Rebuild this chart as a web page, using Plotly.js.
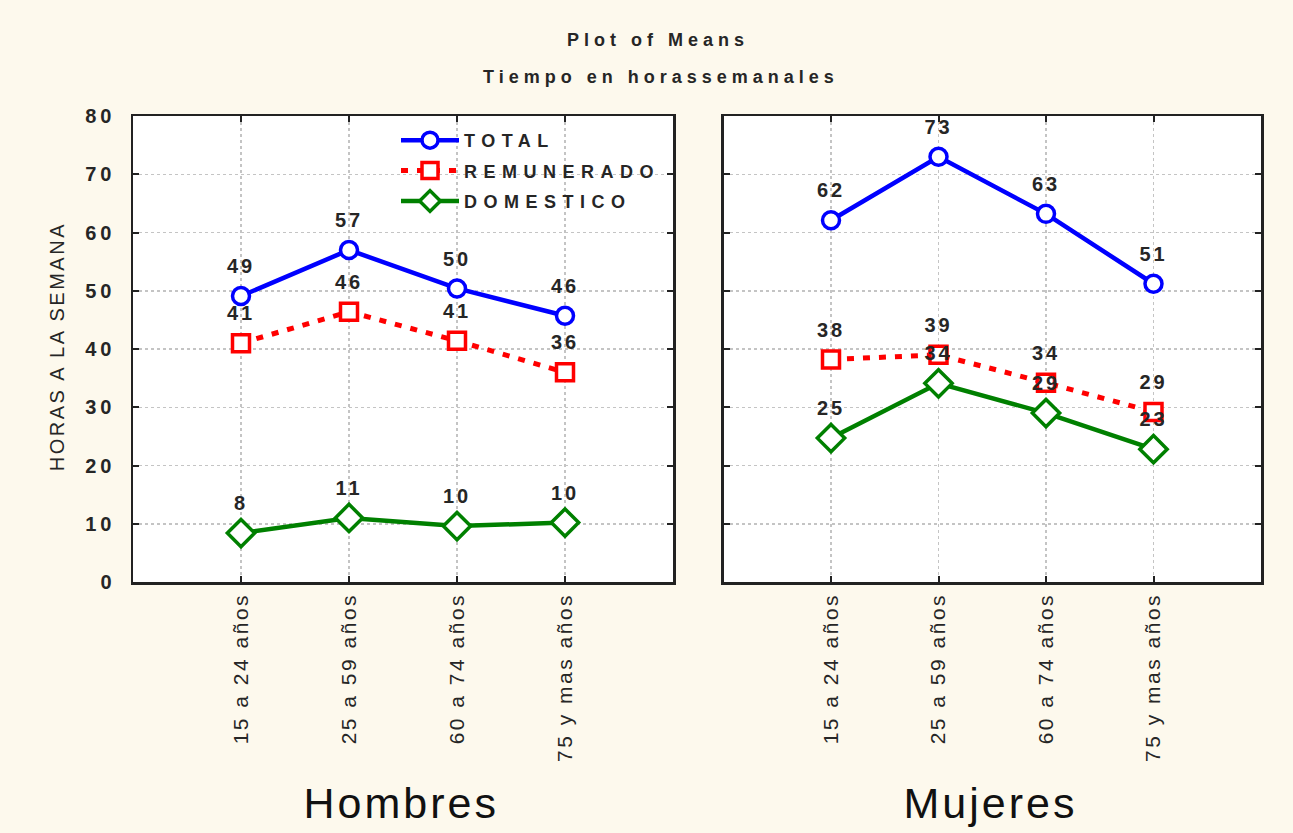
<!DOCTYPE html>
<html>
<head>
<meta charset="utf-8">
<script src="https://cdn.plot.ly/plotly-3.0.1.min.js"></script>
<style>
  html, body { margin: 0; padding: 0; background: #fdf9ed; }
  #chart { width: 1293px; height: 833px; }
  #chart .gtitle { letter-spacing: 5px; }
  #chart .annotation[data-index="0"] text { letter-spacing: 5px; }
  #chart .annotation[data-index="1"] text { letter-spacing: 2.5px; }
  #chart .annotation[data-index="2"] text,
  #chart .annotation[data-index="3"] text { letter-spacing: 3px; }
  #chart .legendtext { letter-spacing: 6.5px; }
  #chart .legend .scrollbox { clip-path: none !important; }
  #chart .textpoint text { letter-spacing: 3px; }
  #chart .ytick text { letter-spacing: 4px; }
  #chart .xtick text, #chart .x2tick text { letter-spacing: 2.5px; }
</style>
</head>
<body>
<div id="chart"></div>
<script>
// ---- data ----
const categories = ["15 a 24 años", "25 a 59 años", "60 a 74 años", "75 y mas años"];
const seriesNames = ["TOTAL", "REMUNERADO", "DOMESTICO"];
const panelNames = ["Hombres", "Mujeres"];

const hombresTotal = [49.1, 57.0, 50.4, 45.7];
const hombresRemunerado = [41.0, 46.4, 41.4, 36.0];
const hombresDomestico = [8.4, 11.0, 9.6, 10.2];

const mujeresTotal = [62.1, 73.0, 63.2, 51.2];
const mujeresRemunerado = [38.2, 39.0, 34.2, 29.2];
const mujeresDomestico = [24.7, 34.1, 29.0, 22.8];

const yTicks = [0, 10, 20, 30, 40, 50, 60, 70, 80];

// ---- styles ----
const W = 1293, H = 833;
const styles = [
  { color: "#0000ff", dash: "solid", symbol: "circle", size: 17, width: 4.5 },
  { color: "#ff0000", dash: "7px,9px", symbol: "square", size: 17, width: 5 },
  { color: "#008000", dash: "solid", symbol: "diamond", size: 21, width: 4.5 }
];

const panels = [
  { xa: "x", ya: "y", data: [hombresTotal, hombresRemunerado, hombresDomestico], legend: true },
  { xa: "x2", ya: "y2", data: [mujeresTotal, mujeresRemunerado, mujeresDomestico], legend: false }
];

const font = "Liberation Sans, Arial, sans-serif";
const ink = "#262626";

const traces = [];
panels.forEach(p => {
  p.data.forEach((vals, i) => {
    const s = styles[i];
    traces.push({
      type: "scatter", mode: "lines+markers",
      x: categories, y: vals, xaxis: p.xa, yaxis: p.ya,
      name: seriesNames[i], legendgroup: "g" + i, showlegend: p.legend,
      line: { color: s.color, width: s.width, dash: s.dash },
      marker: { symbol: s.symbol, size: s.size, color: "#ffffff", line: { color: s.color, width: 3.5 } },
      hoverinfo: "skip", cliponaxis: false
    });
  });
});
panels.forEach(p => {
  p.data.forEach((vals, i) => {
    traces.push({
      type: "scatter", mode: "markers+text",
      x: categories, y: vals, xaxis: p.xa, yaxis: p.ya,
      texttemplate: "%{y:.0f}", textposition: "top center",
      textfont: { family: font, size: 20, color: ink, weight: "bold" },
      marker: { size: 27, color: "rgba(0,0,0,0)" },
      showlegend: false, hoverinfo: "skip", cliponaxis: false
    });
  });
});

const xBase = {
  type: "category", range: [-1, 4],
  showline: true, linewidth: 2.5, linecolor: "#222", mirror: "allticks",
  ticks: "inside", ticklen: 6, tickwidth: 2, tickcolor: "#222",
  showgrid: true, gridcolor: "#c4c4c4", griddash: "dot", gridwidth: 1.5,
  tickangle: -90, tickfont: { family: font, size: 21, color: ink },
  zeroline: false, fixedrange: true
};
const yBase = {
  range: [0, 80], tickvals: yTicks,
  domain: [1 - 582 / H, 1 - 116 / H],
  showline: true, linewidth: 2.5, linecolor: "#222", mirror: "allticks",
  ticks: "inside", ticklen: 6, tickwidth: 2, tickcolor: "#222",
  showgrid: true, gridcolor: "#c4c4c4", griddash: "dot", gridwidth: 1.5,
  tickfont: { family: font, size: 20, color: ink, weight: "bold" },
  zeroline: false, fixedrange: true
};

const layout = {
  width: W, height: H,
  paper_bgcolor: "#fdf9ed", plot_bgcolor: "#ffffff",
  margin: { l: 0, r: 0, t: 0, b: 0 },
  showlegend: true,
  title: { text: "Plot of Means", x: 658 / W, xanchor: "center", y: 1 - 40 / H, yanchor: "middle",
           font: { family: font, size: 18, color: ink, weight: "bold" } },
  xaxis: Object.assign({}, xBase, { domain: [133 / W, 673 / W], anchor: "y" }),
  yaxis: Object.assign({}, yBase, { anchor: "x", ticklabelstandoff: 11 }),
  xaxis2: Object.assign({}, xBase, { domain: [723.5 / W, 1261 / W], anchor: "y2" }),
  yaxis2: Object.assign({}, yBase, { anchor: "x2", showticklabels: false }),
  legend: {
    x: 396 / W, y: 1 - 122 / H, xanchor: "left", yanchor: "top",
    bgcolor: "rgba(0,0,0,0)", borderwidth: 0,
    font: { family: font, size: 18, color: ink, weight: "bold" },
    traceorder: "grouped", tracegroupgap: 4, itemwidth: 58
  },
  annotations: [
    { text: "Tiempo en horassemanales", xref: "paper", yref: "paper", x: 661 / W, y: 1 - 77 / H,
      xanchor: "center", yanchor: "middle", showarrow: false,
      font: { family: font, size: 18, color: ink, weight: "bold" } },
    { text: "HORAS A LA SEMANA", xref: "paper", yref: "paper", x: 57 / W, y: 1 - 347 / H,
      xanchor: "center", yanchor: "middle", textangle: -90, showarrow: false,
      font: { family: font, size: 20, color: ink } },
    { text: panelNames[0], xref: "paper", yref: "paper", x: 401 / W, y: 1 - 803 / H,
      xanchor: "center", yanchor: "middle", showarrow: false, font: { family: font, size: 43, color: "#111" } },
    { text: panelNames[1], xref: "paper", yref: "paper", x: 991 / W, y: 1 - 803 / H,
      xanchor: "center", yanchor: "middle", showarrow: false, font: { family: font, size: 43, color: "#111" } }
  ]
};

Plotly.newPlot("chart", traces, layout, { staticPlot: true, displayModeBar: false });
</script>
</body>
</html>
